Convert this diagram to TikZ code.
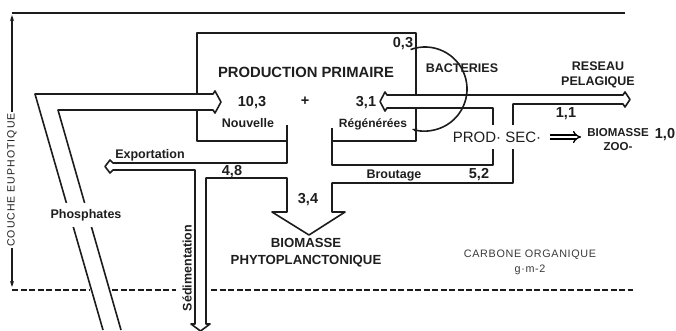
\documentclass[tikz,border=0pt]{standalone}
\usepackage{fontspec}
\setmainfont{Liberation Sans}
\usetikzlibrary{arrows.meta, positioning}
\definecolor{inkLine}{HTML}{1C1C1C}
\definecolor{inkText}{HTML}{1E1E1E}
\definecolor{inkLight}{HTML}{3A3A3A}
\tikzset{
  wall/.style={line width=1.6pt, color=inkLine, line join=round},
  title/.style={font=\bfseries\fontsize{14.8}{16}\selectfont, text=inkText, inner sep=0pt},
  fig/.style={font=\bfseries\fontsize{14.5}{15}\selectfont, text=inkText, inner sep=0pt},
  word/.style={font=\bfseries\fontsize{12.5}{15}\selectfont, text=inkText, inner sep=0pt, align=center},
  gapword/.style={word, fill=white, inner xsep=1pt, inner ysep=5pt},
}
\begin{document}
\begin{tikzpicture}[x=1pt, y=-1pt]
  \useasboundingbox (0,0) rectangle (676,330);
  % couche euphotique
  \draw[wall] (12,13) -- (625,13);
  \draw[wall, -{Stealth[length=6pt,width=4pt]}] (12,180) -- (12,15);
  \draw[wall, -{Stealth[length=6pt,width=4pt]}] (12,180) -- (12,287);
  \draw[wall, line width=1.7pt, dash pattern=on 6pt off 2.5pt]
    (12,290) -- (90,290) (112,290) -- (176,290) (211,290) -- (633,290);
  \node[gapword, rotate=90, font=\fontsize{10.5}{12}\selectfont\addfontfeatures{LetterSpace=10}] (couche) at (12,180) {COUCHE EUPHOTIQUE};
  % phosphates
  \draw[wall] (103,330) -- (35,94) -- (213,94) -- (215,91) -- (221,102)
    -- (215,113) -- (213,110) -- (58,110) -- (121,330);
  \node[gapword, inner ysep=6pt] (phos) at (86,215) {Phosphates};
  % production primaire
  \draw[wall] (287,141) -- (197,141) -- (197,110);
  \draw[wall] (197,94) -- (197,33) -- (416,33) -- (416,95);
  \draw[wall] (416,108) -- (416,141) -- (332,141);
  % flux
  \draw[wall] (287,125) -- (287,163) -- (113,163) -- (110,160) -- (105,166.5)
    -- (110,173) -- (113,170) -- (195,170) -- (195,324) -- (191,324)
    -- (200.5,331) -- (210,324) -- (206,324) -- (206,178) -- (287,178)
    -- (287,212) -- (272,212) -- (309,235) -- (345,212) -- (332,212)
    -- (332,183) -- (513,183) -- (513,104) -- (623,104) -- (625,107)
    -- (630,99.5) -- (625,92) -- (623,95) -- (387,95) -- (385,92)
    -- (380,101.5) -- (385,111) -- (387,108) -- (493,108) -- (493,165)
    -- (332,165) -- (332,128);
  \node[title] (prodprim) at (306,72) {PRODUCTION PRIMAIRE};
  \node[fig] (nouvval) at (252,103) {10,3};
  \node[fig] (plus) at (305,101) {+};
  \node[fig] (regenval) at (366,103) {3,1};
  \node[word] (nouv) at (248,123) {Nouvelle};
  \node[word, font=\bfseries\fontsize{12}{15}\selectfont] (regen) at (373,124) {Régénérées};
  % bacteries
  \coordinate (bactc) at (425,89);
  \draw[wall, -{Stealth[length=5pt,width=4pt]}] (bactc) ++(-110:42)
    arc[start angle=-110, end angle=108, radius=42];
  \node[fig] (bactval) at (403,44) {0,3};
  \node[word] (bact) at (462,68) {BACTERIES};
  \node[word] (reseau) at (598,75) {RESEAU\\PELAGIQUE};
  \node[fig] (reseauval) at (566,114) {1,1};
  \node[gapword, font=\fontsize{15}{15}\selectfont, inner ysep=7pt] (prodsec) at (497,137) {PROD· SEC·};
  \node[word, font=\bfseries\fontsize{11.5}{14}\selectfont] (biozoo) at (618,140) {BIOMASSE\\ZOO-};
  \node[fig] (zooval) at (665,135) {1,0};
  \draw[line width=1.3pt, double, double distance=2.8pt, -{Implies}, shorten <=8pt, shorten >=6pt]
    (prodsec.east) -- (prodsec.east -| biozoo.west);
  % exportation, broutage
  \node[word] (export) at (150,155) {Exportation};
  \node[fig] (exportval) at (232,172) {4,8};
  \node[fig] (phytoval) at (308,200) {3,4};
  \node[word] (brout) at (394,176) {Broutage};
  \node[fig] (broutval) at (479,175) {5,2};
  \node[word, font=\bfseries\fontsize{13.2}{17}\selectfont] (phyto) at (306,253) {BIOMASSE\\PHYTOPLANCTONIQUE};
  \node[word, rotate=90] (sedim) at (187,268) {Sédimentation};
  \node[word, font=\fontsize{10.8}{15}\selectfont\addfontfeatures{LetterSpace=6}, text=inkLight] (carbone) at (530,262) {CARBONE ORGANIQUE\\g·m-2};
\end{tikzpicture}
\end{document}
